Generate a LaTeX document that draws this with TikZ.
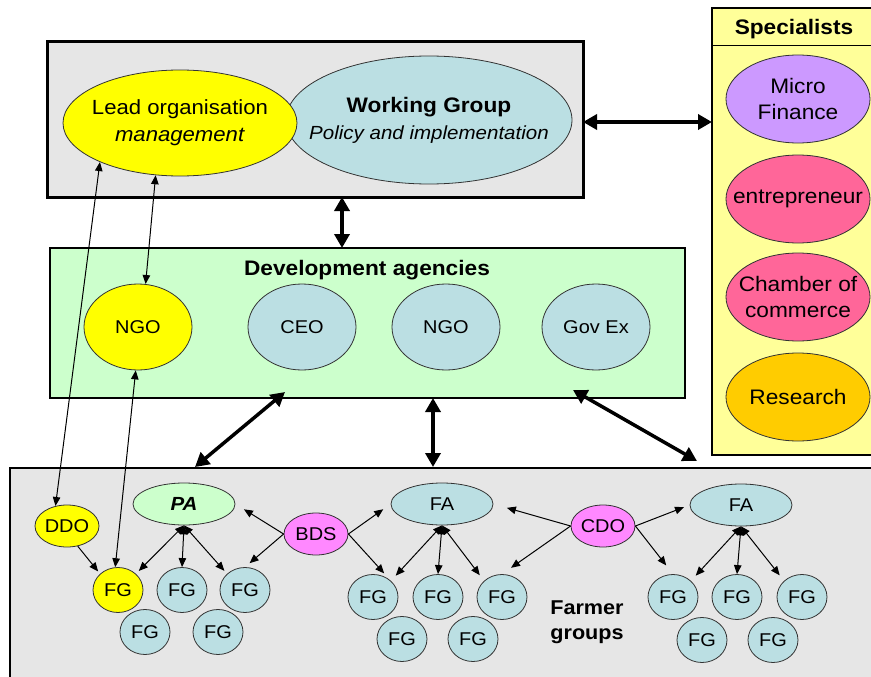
\documentclass[tikz,border=0pt]{standalone}
\usepackage{fontspec}
\setmainfont[FakeStretch=1.08]{Liberation Sans}
\usetikzlibrary{shapes.geometric,arrows.meta,calc}

\definecolor{boxgray}{RGB}{230,230,230}
\definecolor{leadyellow}{RGB}{255,255,0}
\definecolor{paleblue}{RGB}{187,223,227}
\definecolor{palegreen}{RGB}{204,255,204}
\definecolor{specyellow}{RGB}{255,255,153}
\definecolor{lilac}{RGB}{204,153,255}
\definecolor{rose}{RGB}{255,102,153}
\definecolor{amber}{RGB}{255,204,0}
\definecolor{orchid}{RGB}{255,136,255}

\begin{document}
\begin{tikzpicture}[x=1pt,y=-1pt,
  panel/.style={draw=black, inner sep=0pt, outer sep=0pt},
  % the ellipse size is fixed by minimum width/height only; the negative
  % inner sep keeps long labels from stretching the shape
  oval/.style={ellipse, draw=black!80, line width=0.8pt, inner sep=-40pt, align=center},
  bigoval/.style={oval, font=\fontsize{20.5}{27}\selectfont},
  specoval/.style={oval, minimum width=144pt, minimum height=88pt, font=\fontsize{21}{26}\selectfont},
  agency/.style={oval, fill=paleblue, minimum width=108pt, minimum height=86pt, font=\fontsize{18.5}{22}\selectfont},
  assoc/.style={oval, fill=paleblue, minimum width=102pt, minimum height=42pt, font=\fontsize{18.5}{22}\selectfont},
  service/.style={oval, fill=orchid, minimum width=64pt, minimum height=42pt, font=\fontsize{18.5}{22}\selectfont},
  fgnode/.style={oval, fill=paleblue, minimum width=50pt, minimum height=45pt, font=\fontsize{18.5}{22}\selectfont},
  heading/.style={font=\fontsize{21}{25}\selectfont\bfseries, inner sep=0pt},
  twoway/.style={line width=1pt, arrows={Triangle[length=9pt,width=7.5pt]-Triangle[length=9pt,width=7.5pt]}},
  oneway/.style={line width=1pt, arrows={-Triangle[length=9pt,width=7.5pt]}},
  biglink/.style={line width=3.5pt, arrows={Triangle[length=14pt,width=15pt]-Triangle[length=14pt,width=15pt]}}
]
\useasboundingbox (0,0) rectangle (871,677);
\clip (0,0) rectangle (871,677);

% ---- panels ----
\node[panel, fill=boxgray, line width=3pt, minimum width=536pt, minimum height=155pt] (topbox) at (315,119.5) {};
\node[panel, fill=specyellow, line width=1.2pt, minimum width=173pt, minimum height=447pt] (spec) at (798.5,231.5) {};
\coordinate (hdr) at (0,46);
\draw[line width=1pt] (spec.west |- hdr) -- (spec.east |- hdr);
\node[panel, fill=palegreen, line width=1.2pt, minimum width=635pt, minimum height=150pt] (dev) at (367.5,323) {};
\node[panel, fill=boxgray, line width=1.2pt, minimum width=880pt, minimum height=232pt] (field) at (450,584) {};

% ---- top panel ----
\node[bigoval, fill=paleblue, minimum width=286pt, minimum height=128pt] (wg) at (429,120)
  {{\fontsize{21}{28}\selectfont\bfseries Working Group}\\{\fontsize{19}{28}\selectfont\itshape Policy and implementation}};
\node[bigoval, fill=leadyellow, minimum width=234pt, minimum height=106pt] (lead) at (180,123)
  {Lead organisation\\\textit{management}};

% ---- specialists ----
\node[heading] (spectitle) at (794,29) {Specialists};
\node[specoval, fill=lilac] (mf) at (798,99) {Micro\\Finance};
\node[specoval, fill=rose] (ent) at (798,199) {entrepreneur};
\node[specoval, fill=rose] (cc) at (798,297) {Chamber of\\commerce};
\node[specoval, fill=amber] (res) at (798,397) {Research};

% ---- development agencies ----
\node[heading] (devtitle) at (367,270) {Development agencies};
\node[agency, fill=leadyellow] (ngoa) at (138,327) {NGO};
\node[agency] (ceo) at (302,327) {CEO};
\node[agency] (ngob) at (446,327) {NGO};
\node[agency] (gov) at (596,327) {Gov Ex};

% ---- farmer groups ----
\node[service, fill=leadyellow] (ddo) at (67,526) {DDO};
\node[assoc, fill=palegreen, font=\fontsize{19}{22}\selectfont\bfseries\itshape] (pa) at (184,504) {PA};
\node[fgnode, fill=leadyellow] (fg1) at (118,590) {FG};
\node[fgnode] (fg2) at (182,590) {FG};
\node[fgnode] (fg3) at (245,590) {FG};
\node[fgnode] (fg4) at (145,632) {FG};
\node[fgnode] (fg5) at (218,632) {FG};

\node[service] (bds) at (316,534) {BDS};
\node[assoc] (faa) at (442,504) {FA};
\node[fgnode] (fg6) at (373,597) {FG};
\node[fgnode] (fg7) at (438,597) {FG};
\node[fgnode] (fg8) at (502,597) {FG};
\node[fgnode] (fg9) at (402,639) {FG};
\node[fgnode] (fg10) at (473,639) {FG};

\node[service] (cdo) at (603,526) {CDO};
\node[assoc] (fab) at (741,505) {FA};
\node[fgnode] (fg11) at (673,597) {FG};
\node[fgnode] (fg12) at (737,597) {FG};
\node[fgnode] (fg13) at (802,597) {FG};
\node[fgnode] (fg14) at (702,640) {FG};
\node[fgnode] (fg15) at (773,640) {FG};

\node[font=\fontsize{20}{25}\selectfont\bfseries, align=center, inner sep=0pt] (farmers) at (587,622) {Farmer\\groups};

% ---- thick links between panels ----
\draw[biglink] ([yshift=-2.5pt]topbox.east) -- ([yshift=-2.5pt]topbox.east -| spec.west);
\draw[biglink] ([xshift=27pt]topbox.south) -- ([xshift=27pt]topbox.south |- dev.north);
\coordinate (devA) at (285,392);
\coordinate (fieldA) at (195,467);
\coordinate (devB) at (433,398);
\coordinate (fieldB) at (433,467);
\coordinate (devC) at (573,390);
\coordinate (fieldC) at (697,461);
\draw[biglink] (devA) -- (fieldA);
\draw[biglink] (devB) -- (fieldB);
\draw[biglink] (devC) -- (fieldC);

% ---- lead organisation chain ----
\draw[twoway] (lead.206) -- (ddo.120);
\draw[twoway] (lead.245) -- (ngoa.80);
\draw[twoway] (ngoa.267) -- (fg1.97);
\draw[oneway, shorten >=3pt] (ddo.-62) -- (fg1.north west);

% ---- PA cluster ----
\draw[twoway, shorten >=4pt] (pa.south) -- (fg1.north east);
\draw[twoway] (pa.south) -- (fg2.north);
\draw[twoway, shorten >=4pt] (pa.south) -- (fg3.north west);
\draw[oneway, shorten >=10pt] (bds.west) -- (pa.east);
\draw[oneway, shorten >=6pt] (bds.west) -- (fg3.north);

% ---- first FA cluster ----
\draw[oneway, shorten >=9pt] (bds.east) -- (faa.west);
\draw[oneway, shorten >=10pt] (bds.east) -- (fg6.north east);
\draw[twoway, shorten >=7pt] (faa.south) -- (fg6.north east);
\draw[twoway] (faa.south) -- (fg7.north);
\draw[twoway, shorten >=7pt] (faa.south) -- (fg8.north west);
\draw[oneway, shorten >=14pt] (cdo.west) -- (faa.east);
\draw[oneway, shorten >=11pt] (cdo.west) -- (fg8.north);

% ---- second FA cluster ----
\draw[oneway, shorten >=6pt] (cdo.east) -- (fab.west);
\draw[oneway, shorten >=11pt] (cdo.east) -- (fg11.north);
\draw[twoway, shorten >=7pt] (fab.south) -- (fg11.north east);
\draw[twoway] (fab.south) -- (fg12.north);
\draw[twoway, shorten >=7pt] (fab.south) -- (fg13.north west);
\end{tikzpicture}
\end{document}
